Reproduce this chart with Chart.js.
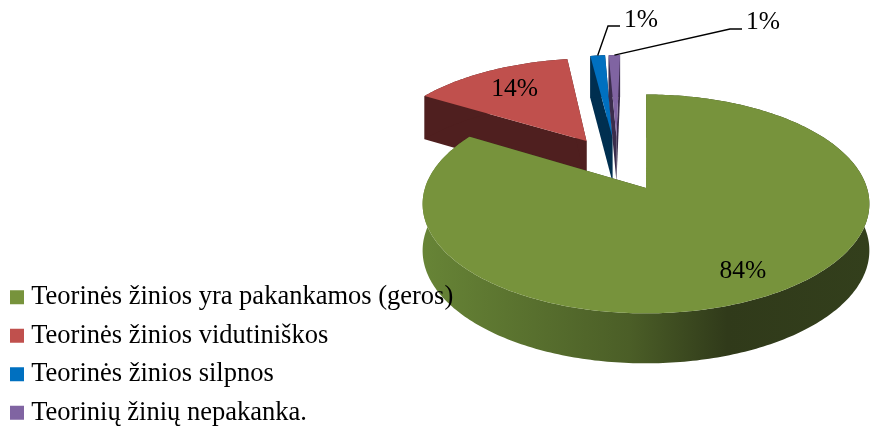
<!DOCTYPE html>
<html>
<head>
<meta charset="utf-8">
<style>
  html, body { margin: 0; padding: 0; background: #fff; }
</style>
<script src="https://cdn.jsdelivr.net/npm/chart.js"></script>
</head>
<body>
<canvas id="chart" width="870" height="426" style="display:block"></canvas>
<script>
const categories = [
    "Teorinės žinios yra pakankamos (geros)",
    "Teorinės žinios vidutiniškos",
    "Teorinės žinios silpnos",
    "Teorinių žinių nepakanka.",
];
const shares = [83.6, 14.1, 1.3, 1.0];
const topColors = ["#77933c", "#c0504d", "#0070c0", "#8064a2"];
const sideColors = ["#33401c", "#4f1f1f", "#002f50", "#3a2c4c"];
const FONT = "'Liberation Serif', serif";

// the pie is a flat circle seen in perspective, this maps it to the screen
const view = {cx: 647, cy: 190, a: 221.6, b: 107.7, k: 0.1455};
const pieCentre = {x: -0.14, y: -0.2575};
const explode = 0.275;

function project(x, y) {
    const w = 1 - view.k * y;
    return {x: view.cx + (view.a * x) / w, y: view.cy + (view.b * y) / w};
}

function depthAt(screenY) {
    return 42 + (8 * (screenY - 56)) / 257;
}

function outline(arc) {
    const mid = (arc.startAngle + arc.endAngle) / 2;
    const ox = pieCentre.x + explode * Math.cos(mid);
    const oy = pieCentre.y + explode * Math.sin(mid);
    const rim = [];
    const steps = Math.max(4, Math.ceil((arc.endAngle - arc.startAngle) * 60));
    for (let i = 0; i <= steps; i++) {
        const t = arc.startAngle + ((arc.endAngle - arc.startAngle) * i) / steps;
        rim.push(project(ox + Math.cos(t), oy + Math.sin(t)));
    }
    return {apex: project(ox, oy), rim, ox, oy, mid};
}

function fillPath(ctx, pts, fill) {
    ctx.beginPath();
    pts.forEach((p, i) => (i ? ctx.lineTo(p.x, p.y) : ctx.moveTo(p.x, p.y)));
    ctx.closePath();
    ctx.fillStyle = fill;
    ctx.fill();
}

function drop(p) {
    return {x: p.x, y: p.y + depthAt(p.y)};
}

function drawSlice(ctx, arc, index) {
    const {apex, rim} = outline(arc);
    let side = sideColors[index];
    if (index === 0) {
        const grad = ctx.createLinearGradient(424, 0, 870, 0);
        grad.addColorStop(0, "#678436");
        grad.addColorStop(0.46, "#4b5e27");
        grad.addColorStop(0.68, "#303a1a");
        grad.addColorStop(1, "#333f1c");
        side = grad;
    }
    // walls first, the top face then hides whatever lies under it
    const first = rim[0];
    const last = rim[rim.length - 1];
    fillPath(ctx, [apex, first, drop(first), drop(apex)], sideColors[index]);
    fillPath(ctx, [apex, last, drop(last), drop(apex)], sideColors[index]);
    fillPath(ctx, rim.concat(rim.map(drop).reverse()), side);
    fillPath(ctx, [apex].concat(rim), topColors[index]);
}

const pie3d = {
    id: "pie3d",
    // drawn ahead of the legend, the legend text runs over the green wall
    beforeDraw(chart) {
        const {ctx} = chart;
        const arcs = chart.getDatasetMeta(0).data;
        // green goes last, it sits in front of the others
        [1, 2, 3, 0].forEach((i) => drawSlice(ctx, arcs[i], i));
    },
    beforeDatasetDraw() {
        return false;
    },
    afterDatasetsDraw(chart) {
        const {ctx} = chart;
        const arcs = chart.getDatasetMeta(0).data;
        const total = shares.reduce((a, b) => a + b, 0);
        const pct = shares.map((v) => Math.round((v / total) * 100) + "%");
        ctx.save();
        ctx.font = "25.5px " + FONT;
        ctx.fillStyle = "#000";
        ctx.textAlign = "center";
        ctx.textBaseline = "middle";

        // inside labels
        [[0, 0.8], [1, 0.72]].forEach(([i, r]) => {
            const o = outline(arcs[i]);
            const p = project(o.ox + r * Math.cos(o.mid), o.oy + r * Math.sin(o.mid));
            ctx.fillText(pct[i], p.x, p.y);
        });

        // small slices get a leader line
        [[2, [608, 26], [620, 26], 641, 20], [3, [730, 29], [742, 29], 763, 22]].forEach(([i, e1, e2, tx, ty]) => {
            const o = outline(arcs[i]);
            const p = project(o.ox + Math.cos(o.mid), o.oy + Math.sin(o.mid));
            ctx.beginPath();
            ctx.moveTo(p.x, p.y);
            ctx.lineTo(e1[0], e1[1]);
            ctx.lineTo(e2[0], e2[1]);
            ctx.strokeStyle = "#000";
            ctx.lineWidth = 1.4;
            ctx.stroke();
            ctx.fillText(pct[i], tx, ty);
        });
        ctx.restore();
    },
};

new Chart(document.getElementById("chart"), {
    type: "pie",
    data: {
        labels: categories,
        datasets: [{data: shares, backgroundColor: topColors, borderWidth: 0}],
    },
    options: {
        responsive: false,
        animation: false,
        layout: {padding: {left: 4, bottom: -12}},
        plugins: {
            tooltip: {enabled: false},
            legend: {
                position: "left",
                align: "end",
                maxWidth: 520,
                labels: {
                    font: {family: FONT, size: 26.5},
                    color: "#000",
                    usePointStyle: true,
                    pointStyle: "rect",
                    boxWidth: 2,
                    boxHeight: 14,
                    padding: 12,
                },
            },
        },
    },
    plugins: [pie3d],
});
</script>
</body>
</html>
